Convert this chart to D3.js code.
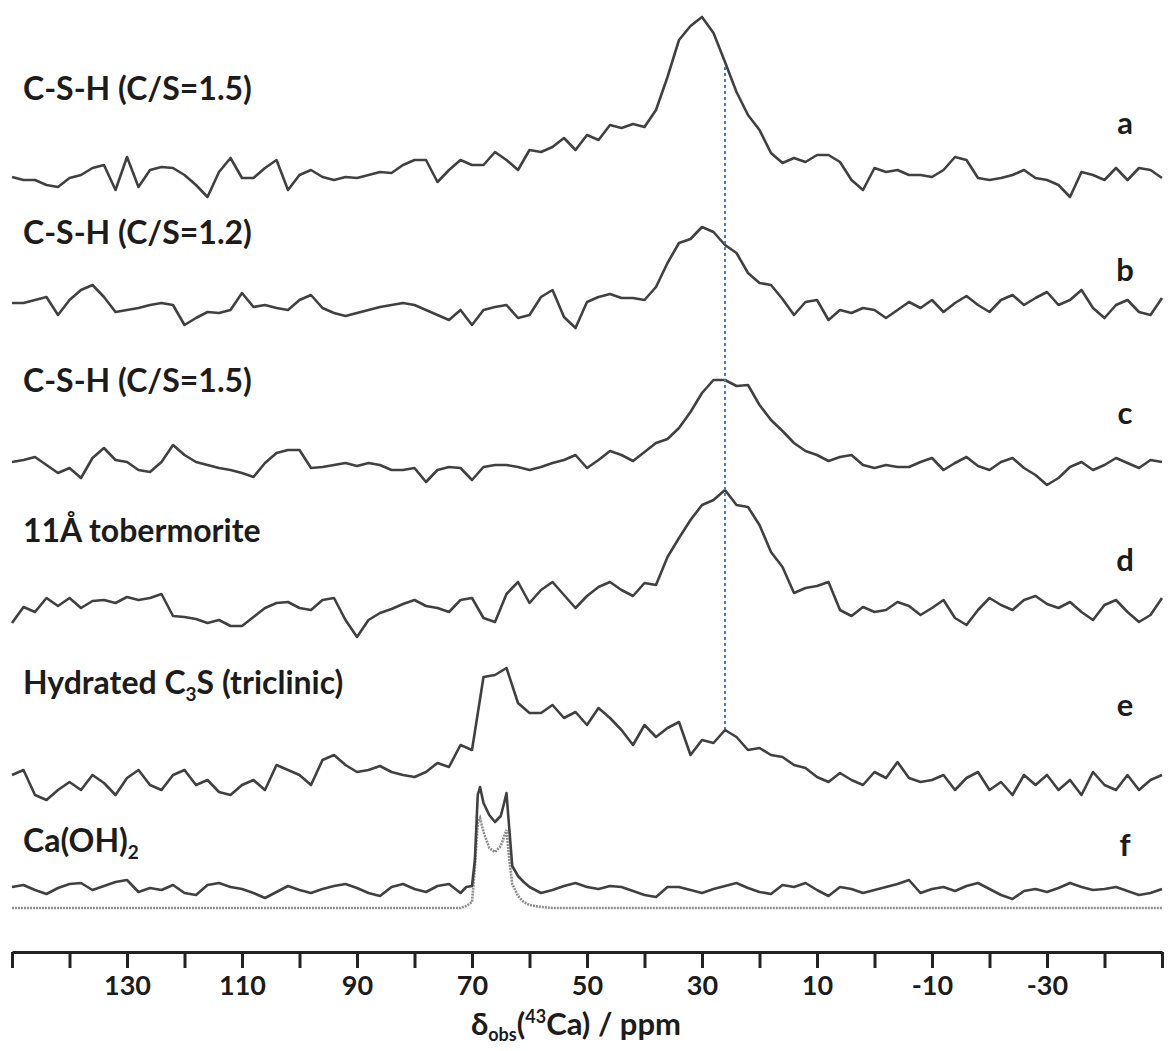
<!DOCTYPE html>
<html>
<head>
<meta charset="utf-8">
<script src="https://cdn.jsdelivr.net/npm/d3@7"></script>
<style>
  body { margin: 0; background: #fff; }
  svg { display: block; }
  text { font-family: Lato, "Open Sans", sans-serif; font-weight: 700; fill: #1c1c1c; }
</style>
</head>
<body>
<div id="chart"></div>
<script>
// sampling grid of the traces a-e, ppm, read every 2 ppm
var ppm = d3.range(150, -51, -2);

// intensities (a.u.), one value per ppm step
var traceA = [3,0,0,-5,-7,2,5,12,15,-10, 23,-7,10,13,12,5,-5,-17,8,22,
  2,2,12,20,-10,5,10,3,0,3, 2,5,8,7,15,20,20,-2,10,20,
  15,15,28,20,10,30,28,33,42,30, 45,40,55,52,56,53,70,103,140,154,
  163,147,118,88,65,50,27,17,22,18, 25,25,18,0,-10,12,8,10,5,5,
  3,10,23,20,2,0,2,5,10,2, 0,-5,-17,8,5,0,12,0,12,10, 2];
var traceB = [2,2,5,8,-10,5,15,20,8,-7, -5,-3,0,2,0,-20,-13,-7,-8,-5,
  12,-2,0,-3,-5,5,10,-3,-8,-11, -8,-5,-2,0,2,0,-5,-10,-15,-5,
  -20,-5,-2,0,-13,-10,8,15,-12,-23, 3,8,11,7,7,5,18,42,62,66,
  78,73,60,52,32,22,20,6,-10,3, 5,-15,-5,-8,-3,-5,-13,-5,3,-3,
  5,-7,2,9,0,-7,5,10,0,7, 13,0,5,15,-3,-13,0,5,-7,-10, 7];
var traceC = [3,5,8,0,-8,-3,-13,7,17,5, 3,-5,-7,3,20,10,3,0,-3,-5,
  -8,-12,2,12,15,15,-3,-2,0,2, -1,2,0,-5,-5,-3,-17,-5,-2,-3,
  -15,-2,0,0,-2,-5,-2,2,5,10, -3,5,14,10,4,13,22,26,37,53,
  72,85,85,79,80,60,45,34,22,14, 10,4,8,10,0,-3,0,-2,-2,3,
  7,-5,2,8,-1,-5,3,7,-3,-10, -20,-13,-2,3,-5,0,7,2,-3,5, 3];
var traceD = [-18,-2,-7,7,-1,7,-3,4,5,2, 8,5,7,11,-11,-12,-14,-18,-15,-21,
  -21,-12,-3,2,3,-3,-5,5,7,-15, -32,-15,-8,-4,1,5,-1,-3,-7,5,
  7,-13,-17,11,23,2,15,23,10,-3, 9,18,23,15,9,22,20,48,67,85,
  100,105,115,100,98,80,53,38,12,17, 19,23,-5,-11,-2,-7,-5,3,-1,-10,
  -3,5,-13,-20,-5,7,0,-5,5,9, 1,-3,3,-7,-15,0,5,-7,-17,-10, 7];
var traceE = [15,20,-5,-10,0,8,0,15,7,-5, 12,20,5,0,15,20,5,10,-2,-5,
  5,10,0,25,20,15,5,30,35,25, 18,20,24,18,15,13,18,27,23,45,
  40,113,115,122,87,77,77,85,72,78, 65,82,72,60,45,65,53,62,68,35,
  50,47,60,53,40,42,35,33,25,22, 13,8,17,10,5,18,12,28,12,8,
  10,15,0,12,18,0,8,-5,15,5, 15,0,10,-5,18,5,0,15,0,10, 15];

// Ca(OH)2 needs a finer grid round the two sharp lines
var fPpm = [150,148,146,144,142,140,138,136,134,132,130,128,126,124,122,120,118,116,114,112,
  110,108,106,104,102,100,98,96,94,92,90,88,86,84,82,80,78,76,74,72,
  71,70,69.5,69,68.6,68,67,66,65,64.5,64,63.5,63,62,61,60,
  58,56,54,52,50,48,46,44,42,40,38,36,34,32,30,28,26,24,22,20,18,16,14,12,10,8,6,4,2,0,
  -2,-4,-6,-8,-10,-12,-14,-16,-18,-20,-22,-24,-26,-28,-30,-32,-34,-36,-38,-40,-42,-44,-46,-48,-50];
var fObs = [1,3,-2,-6,0,4,5,-2,2,6,8,-4,0,-2,3,-5,-7,3,5,1,
  -1,-5,-10,-4,2,-2,-5,-1,2,4,0,-5,-8,1,4,-1,-4,2,4,-5,
  1,2,28,93,101,85,73,66,72,83,95,58,22,12,6,1,
  -5,-2,2,5,1,-1,2,1,-3,-7,-9,1,1,-2,-5,-1,2,5,0,-4,-6,3,1,5,-2,-8,1,-1,-5,-2,
  1,4,8,-5,-1,1,-3,2,5,-1,-7,-11,-3,-1,-4,0,5,1,-2,-1,1,-3,-7,-5,-1];
// grey dotted simulated line under Ca(OH)2
var simPpm = [150,72,71,70,69.5,69,68.6,68,67,66,65,64.5,64,63.5,63,62,61,60,58,56,-50];
var simVal = [0,0,2,6,40,85,90,76,60,56,62,70,78,48,24,12,6,3,1,0,0];

var sampleLabels = ["C-S-H (C/S=1.5)", "C-S-H (C/S=1.2)", "C-S-H (C/S=1.5)",
  "11\u00c5 tobermorite", "Hydrated C|3|S (triclinic)", "Ca(OH)|2|"];
var letters = ["a", "b", "c", "d", "e", "f"];
var tickValues = d3.range(150, -51, -10);
var tickLabels = [130, 110, 90, 70, 50, 30, 10, -10, -30];
var markerPpm = 26;

var width = 1168, height = 1051;
var baselines = [180, 305, 465, 605, 790, 888];
var simBaseline = 908;
var labelY = [100, 244, 392, 542, 694, 852];
var letterY = [123, 270, 413, 560, 705, 845];

var x = d3.scaleLinear().domain([150, -50]).range([12, 1162]);
var y = d3.scaleLinear().domain([0, 100]).range([0, -100]);

var svg = d3.select('#chart')
    .append('svg')
    .attr('width', width)
    .attr('height', height);

var traces = [traceA, traceB, traceC, traceD, traceE].map(function (vals) {
  return vals.map(function (v, i) { return [ppm[i], v]; });
});
traces.push(fObs.map(function (v, i) { return [fPpm[i], v]; }));

function lineAt(base) {
  return d3.line()
      .x(function (d) { return x(d[0]); })
      .y(function (d) { return base + y(d[1]); });
}

// simulated line first so the measured one sits over it
svg.append('path')
    .attr('d', lineAt(simBaseline)(simVal.map(function (v, i) { return [simPpm[i], v]; })))
    .attr('fill', 'none')
    .attr('stroke', '#8e8e8e')
    .attr('stroke-width', 2.6)
    .attr('stroke-dasharray', '2,1');

svg.selectAll('.trace')
    .data(traces)
    .enter()
    .append('path')
    .attr('class', 'trace')
    .attr('d', function (d, i) { return lineAt(baselines[i])(d); })
    .attr('fill', 'none')
    .attr('stroke', '#404040')
    .attr('stroke-width', 2.6)
    .attr('stroke-linejoin', 'round');

// dashed marker from trace a down to trace e
var mi = ppm.indexOf(markerPpm);
svg.append('line')
    .attr('x1', x(markerPpm)).attr('x2', x(markerPpm))
    .attr('y1', baselines[0] + y(traceA[mi]) + 5)
    .attr('y2', baselines[4] + y(traceE[mi]) - 1)
    .attr('stroke', '#3f7fc0')
    .attr('stroke-width', 2)
    .attr('stroke-dasharray', '3,3');

// sample names, "|" marks a subscript
var names = svg.selectAll('.name')
    .data(sampleLabels)
    .enter()
    .append('text')
    .attr('class', 'name')
    .attr('x', 23)
    .attr('y', function (d, i) { return labelY[i]; })
    .attr('dy', '0.35em')
    .attr('font-size', 32);

names.each(function (d) {
  var t = d3.select(this);
  d.split('|').forEach(function (part, k) {
    if (!part) return;
    var sub = k % 2 === 1;
    t.append('tspan')
        .attr('font-size', sub ? 19 : 32)
        .attr('dy', sub ? 7 : (k > 0 ? -7 : 0))
        .text(part);
  });
});

svg.selectAll('.letter')
    .data(letters)
    .enter()
    .append('text')
    .attr('class', 'letter')
    .attr('x', 1125)
    .attr('y', function (d, i) { return letterY[i]; })
    .attr('dy', '0.35em')
    .attr('text-anchor', 'middle')
    .attr('font-size', 31)
    .text(function (d) { return d; });

// axis
var axis = d3.axisBottom(x)
    .tickValues(tickValues)
    .tickSize(16)
    .tickSizeOuter(0)
    .tickPadding(8)
    .tickFormat(function (d) { return tickLabels.indexOf(d) >= 0 ? String(d) : ''; });

var gx = svg.append('g')
    .attr('transform', 'translate(0,952)')
    .call(axis);
gx.select('.domain').attr('stroke', '#222').attr('stroke-width', 3);
gx.selectAll('.tick line').attr('stroke', '#222').attr('stroke-width', 3);
gx.selectAll('.tick text')
    .attr('font-size', 27)
    .attr('font-family', 'Lato, sans-serif')
    .attr('font-weight', 700)
    .attr('fill', '#1c1c1c');

var title = svg.append('text')
    .attr('x', 576)
    .attr('y', 1035)
    .attr('text-anchor', 'middle')
    .attr('font-size', 31);
title.append('tspan').text('\u03b4');
title.append('tspan').attr('font-size', 18).attr('dy', 6).text('obs');
title.append('tspan').attr('dy', -6).text('(');
title.append('tspan').attr('font-size', 18).attr('dy', -12).text('43');
title.append('tspan').attr('dy', 12).text('Ca) / ppm');
</script>
</body>
</html>
